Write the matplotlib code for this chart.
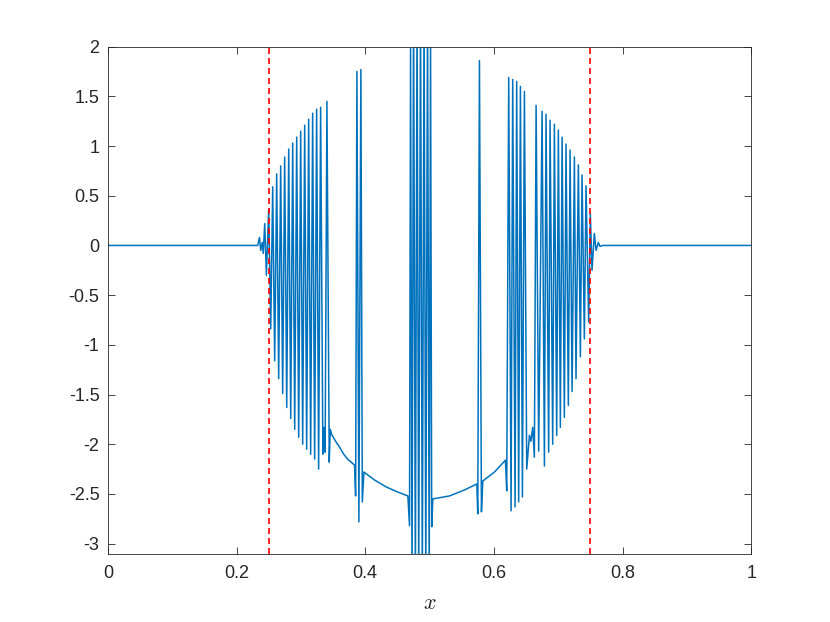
import numpy as np
import matplotlib
matplotlib.use("Agg")
import matplotlib.pyplot as plt

plt.rcParams['font.family'] = ['Liberation Sans', 'DejaVu Sans']
plt.rcParams['mathtext.fontset'] = 'cm'
plt.rcParams['axes.unicode_minus'] = False

# vertices of the signal
x = [0.0, 0.2329, 0.2356, 0.2376, 0.2399, 0.2415, 0.2438, 0.2464,
     0.2500, 0.2531, 0.2562, 0.2593, 0.2624, 0.2655, 0.2686, 0.2717,
     0.2748, 0.2780, 0.2811, 0.2842, 0.2873, 0.2904, 0.2935, 0.2966,
     0.2997, 0.3028, 0.3059, 0.3090, 0.3121, 0.3152, 0.3183, 0.3214,
     0.3245, 0.3276, 0.3307, 0.3342, 0.3359, 0.3377, 0.3405, 0.3441,
     0.3457, 0.3478, 0.3540, 0.3602, 0.3665, 0.3727, 0.3835, 0.3851,
     0.3871, 0.3902, 0.3933, 0.3955, 0.3980, 0.4146, 0.4328, 0.4503,
     0.4663, 0.4689, 0.4705, 0.4728, 0.4752, 0.4780, 0.4806, 0.4832,
     0.4860, 0.4888, 0.4915, 0.4942, 0.4969, 0.4995, 0.5016, 0.5034,
     0.5051, 0.5311, 0.5543, 0.5735, 0.5750, 0.5776, 0.5807, 0.5828,
     0.6009, 0.6180, 0.6200, 0.6231, 0.6268, 0.6293, 0.6330, 0.6355,
     0.6386, 0.6413, 0.6444, 0.6475, 0.6511, 0.6553, 0.6576, 0.6604,
     0.6630, 0.6657, 0.6697, 0.6750, 0.6786, 0.6811, 0.6852, 0.6874,
     0.6915, 0.6941, 0.6977, 0.7003, 0.7034, 0.7061, 0.7096, 0.7122,
     0.7158, 0.7185, 0.7216, 0.7252, 0.7277, 0.7314, 0.7345, 0.7371,
     0.7407, 0.7433, 0.7474, 0.7500, 0.7526, 0.7562, 0.7589, 0.7624,
     0.7651, 0.7691, 1.0]
y = [0.0, 0.0, 0.08, -0.05, 0.03, -0.08, 0.22, -0.30,
     0.37, -0.84, 0.59, -1.16, 0.72, -1.34, 0.80, -1.49,
     0.89, -1.63, 0.97, -1.74, 1.03, -1.85, 1.09, -1.93,
     1.15, -2.00, 1.21, -2.05, 1.27, -2.10, 1.33, -2.15,
     1.37, -2.25, 1.39, -2.10, -1.83, -2.08, 1.45, -2.18,
     -1.85, -1.90, -1.97, -2.03, -2.10, -2.15, -2.21, -2.52,
     1.75, -2.78, 1.77, -2.58, -2.28, -2.36, -2.43, -2.48,
     -2.52, -2.82, 1.98, -3.4, 2.4, -3.4, 2.4, -3.4,
     2.4, -3.4, 2.4, -3.4, 2.4, -3.4, 2.05, -2.83,
     -2.55, -2.52, -2.46, -2.40, -2.70, 1.86, -2.68, -2.37,
     -2.28, -2.16, -2.47, 1.69, -2.67, 1.67, -2.63, 1.65,
     -2.58, 1.60, -2.53, 1.55, -2.25, -1.91, -1.97, -1.83,
     -2.13, 1.41, -2.07, 1.35, -2.22, 1.32, -2.08, 1.26,
     -2.00, 1.22, -1.91, 1.16, -1.83, 1.09, -1.73, 1.02,
     -1.61, 0.96, -1.47, 0.89, -1.34, 0.81, -1.12, 0.71,
     -0.94, 0.60, -0.77, 0.32, -0.25, 0.12, -0.05, 0.03,
     -0.01, 0.0, 0.0]
bounds = [0.25, 0.75]

fig = plt.figure(figsize=(8.3, 6.22), dpi=100)
ax = fig.add_axes([0.13, 0.11, 0.775, 0.815])
ax.plot(x, y, color='#0072BD', lw=1.1)
for b in bounds:
    ax.axvline(b, color='#FF0000', ls='--', lw=1.2, dashes=(3.6, 2.4))

ax.set_xlim(0, 1)
ax.set_ylim(-3.1, 2)
ax.set_xticks(np.arange(0, 1.01, 0.2))
ax.set_xticklabels(['0', '0.2', '0.4', '0.6', '0.8', '1'])
yt = np.arange(-3, 2.01, 0.5)
ax.set_yticks(yt)
ax.set_yticklabels(['%g' % v for v in yt])
ax.tick_params(direction='in', top=True, right=True, length=5, width=0.6,
               colors='#262626', labelsize=13)
ax.tick_params(axis='x', pad=8)
ax.tick_params(axis='y', pad=6)
for s in ax.spines.values():
    s.set_color('#262626')
    s.set_linewidth(0.6)
ax.set_xlabel('$x$', fontsize=16, color='#262626', labelpad=8)

fig.savefig('out.png')
